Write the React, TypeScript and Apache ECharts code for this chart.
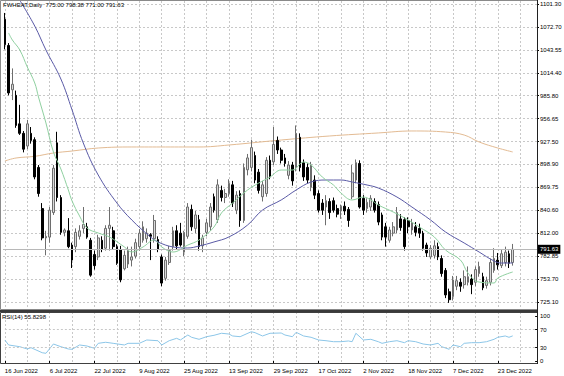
import React, { useEffect, useRef } from "react";
import * as echarts from "echarts";

const symbolName = "FWHEAT";
const timeframe = "Daily";
const dateLabels = [
  "16 Jun 2022", "6 Jul 2022", "22 Jul 2022", "9 Aug 2022", "25 Aug 2022", "13 Sep 2022",
  "29 Sep 2022", "17 Oct 2022", "2 Nov 2022", "18 Nov 2022", "7 Dec 2022", "23 Dec 2022",
];
const priceTicks = [1101.3, 1072.7, 1043.55, 1014.4, 985.8, 956.65, 927.5, 898.9, 869.75, 840.6, 812.0, 782.85, 753.7, 725.1];
const rsiTicks = [0, 30, 70, 100];
const rsiLevels = [30, 70];
const rsiLastText = "55.8298";

const opens = [
  1082, 1049, 993, 986, 950, 938, 922, 938, 930, 895,
  843, 806, 807, 838, 926, 857, 813, 815, 797, 795,
  808, 818, 820, 803, 785, 782, 803, 793, 818, 815,
  795, 791, 767, 773, 778, 783, 795, 803, 805, 810,
  805, 804, 782, 755, 775, 795, 815, 812, 788, 808,
  842, 818, 829, 796, 813, 820, 858, 829, 866, 857,
  862, 873, 841, 862, 828, 892, 895, 910, 889, 858,
  862, 904, 902, 929, 917, 907, 885, 898, 895, 933,
  901, 895, 870, 879, 862, 850, 845, 852, 853, 843,
  840, 846, 842, 858, 879, 900, 856, 843, 845, 852,
  848, 835, 820, 803, 812, 816, 830, 829, 828, 816,
  820, 818, 812, 797, 782, 784, 795, 780, 765, 738,
  732, 745, 750, 747, 750, 754, 750, 761, 757, 746,
  750, 765, 778, 771, 775, 786, 775,
];
const highs = [
  1090, 1052, 1020, 992, 974, 941, 955, 946, 933, 898,
  850, 815, 845, 898, 940, 860, 818, 831, 800, 818,
  822, 845, 825, 806, 790, 810, 808, 822, 845, 820,
  798, 796, 790, 795, 795, 805, 817, 827, 818, 812,
  835, 808, 785, 782, 796, 820, 822, 825, 815, 850,
  848, 840, 835, 810, 830, 850, 862, 880, 872, 868,
  880, 878, 865, 866, 900, 912, 930, 915, 893, 878,
  908, 910, 946, 934, 920, 912, 903, 902, 948, 938,
  905, 900, 902, 885, 866, 855, 860, 856, 857, 848,
  848, 852, 845, 898, 905, 904, 860, 856, 860, 856,
  852, 838, 825, 820, 826, 845, 836, 832, 832, 830,
  826, 824, 815, 800, 797, 803, 800, 784, 768, 742,
  758, 758, 755, 765, 770, 760, 770, 776, 762, 757,
  780, 793, 787, 792, 795, 790, 798.38,
];
const lows = [
  1044, 986, 980, 945, 936, 914, 918, 925, 880, 858,
  803, 784, 800, 835, 852, 810, 808, 793, 768, 788,
  804, 812, 805, 757, 766, 778, 788, 790, 790, 792,
  772, 750, 765, 768, 770, 780, 790, 800, 800, 778,
  800, 788, 745, 752, 772, 790, 792, 795, 783, 805,
  815, 812, 790, 788, 808, 815, 838, 825, 852, 850,
  858, 845, 836, 820, 825, 885, 890, 875, 862, 852,
  858, 880, 898, 912, 900, 896, 880, 872, 890, 890,
  878, 875, 865, 855, 838, 835, 822, 830, 838, 832,
  830, 835, 820, 855, 875, 843, 835, 838, 840, 838,
  822, 803, 795, 800, 808, 812, 815, 790, 812, 810,
  808, 806, 790, 782, 779, 780, 778, 757, 730, 724,
  727, 740, 738, 742, 746, 735, 745, 757, 740, 742,
  746, 762, 766, 768, 770, 768, 771,
];
const closes = [
  1050, 989, 1000, 948, 938, 918, 950, 929, 883, 862,
  806, 808, 841, 894, 857, 813, 816, 795, 778, 813,
  815, 823, 807, 759, 771, 806, 792, 818, 822, 795,
  774, 753, 784, 790, 782, 800, 812, 820, 812, 808,
  828, 792, 749, 778, 790, 815, 796, 797, 813, 845,
  820, 835, 795, 806, 825, 845, 841, 873, 857, 862,
  875, 850, 860, 828, 895, 907, 920, 879, 866, 873,
  904, 883, 924, 917, 904, 900, 898, 878, 938, 895,
  883, 879, 898, 860, 841, 841, 853, 838, 841, 836,
  846, 840, 828, 888, 901, 845, 841, 851, 856, 841,
  826, 807, 807, 816, 820, 838, 819, 795, 820, 825,
  813, 812, 793, 787, 793, 796, 782, 761, 734, 728,
  753, 752, 745, 757, 757, 747, 766, 770, 743, 752,
  775, 780, 772, 786, 788, 774, 791.63,
];

// moving averages: [bar index, price]
const maFast = [
  [1, 1064.7], [2, 1055.9], [4, 1043.2], [6, 1021.8], [8, 1001.6], [9, 983.9], [11, 951.1], [13, 914.5],
  [15, 893], [17, 866.5], [18, 852.6], [20, 833.7], [22, 818.5], [25, 812.2], [28, 807.2], [32, 794.6],
  [34, 788.2], [37, 794.6], [40, 803.4], [42, 794.6], [45, 788.2], [49, 797], [52, 803.4], [56, 819.8],
  [58, 837.5], [61, 850.1], [65, 866.5], [68, 875.3], [71, 882.9], [74, 891.7], [77, 891.7], [80, 901.8],
  [82, 898.1], [85, 882.9], [88, 872.8], [90, 862.7], [93, 853.9], [96, 857.6], [98, 853.9], [100, 847.6],
  [104, 838.7], [108, 828.6], [111, 819.8], [115, 807.2], [118, 790.7], [122, 778.1], [124, 761.7],
  [127, 750.3], [131, 749.1], [132, 755.4], [136, 763],
];
const maMid = [
  [4, 1106], [8, 1073.5], [11, 1043.2], [15, 1006.6], [18, 967.5], [21, 925.8], [25, 885.4], [30, 850.1],
  [34, 828.6], [39, 807.2], [41, 800.9], [45, 794.6], [49, 793.3], [52, 795.8], [56, 800.9], [60, 807.2],
  [65, 822.3], [69, 841.2], [74, 853.9], [78, 866.5], [82, 876.6], [86, 879.1], [90, 879.1], [93, 876.6],
  [97, 872.8], [100, 869], [105, 857.6], [109, 845], [114, 828.6], [118, 813.5], [123, 799.6], [127, 788.2],
  [131, 776.9], [133, 774.3], [136, 774.3],
];
const maSlow = [
  [0, 903.1], [3, 906.9], [8, 909], [13, 913.2], [18, 915.7], [25, 919.5], [34, 920.8], [43, 920.8],
  [52, 920.8], [60, 923.3], [74, 929.6], [87, 934.7], [100, 938.5], [109, 941], [118, 939.7], [123, 935.9],
  [127, 927.1], [132, 919.5], [136, 914.5],
];
const rsi14 = [
  [0, 46.7], [1, 35.6], [4, 31.8], [6, 26.7], [7, 29.6], [10, 18.4], [11, 17.1], [13, 37.8], [15, 31.8],
  [17, 26.7], [18, 26], [20, 35.6], [22, 33.3], [24, 28.2], [25, 39.3], [27, 41.6], [29, 39.3], [32, 35.6],
  [33, 39.3], [36, 39.3], [38, 46.7], [41, 45.1], [42, 35.6], [44, 45.1], [46, 50.4], [47, 46.7], [49, 57.8],
  [50, 52.7], [52, 48.2], [54, 54], [56, 57.1], [58, 61.6], [60, 60], [61, 55.6], [63, 54], [66, 65.1],
  [67, 62.9], [69, 55.6], [71, 61.6], [74, 62.2], [75, 57.8], [77, 54], [78, 63.8], [80, 55.6], [82, 52.7],
  [84, 46.7], [86, 45.1], [88, 42.9], [90, 42.9], [92, 44.5], [93, 42.9], [94, 61.6], [96, 46.7], [98, 48.2],
  [100, 42.9], [101, 39.3], [103, 42.9], [105, 45.1], [107, 40.7], [108, 45.1], [110, 42.9], [112, 37.8],
  [114, 35.6], [116, 39.3], [117, 31.8], [119, 26], [120, 35.6], [122, 31.8], [123, 39.3], [125, 40.7],
  [127, 40.7], [129, 42.9], [131, 48.2], [132, 52.7], [134, 55.6], [135, 52.7], [136, 55.83],
];

const emptyBarsRight = 6;
const labelEvery = 12;
const gridEvery = 6;

export default function App() {
  const ref = useRef<HTMLDivElement>(null);
  useEffect(() => {
    if (!ref.current) return;
    const chart = echarts.init(ref.current, null, { renderer: "svg" });
    const n = opens.length;
    const total = n + emptyBarsRight;
    const categories = Array.from({ length: total }, (_, i) => String(i));
    const candles = opens.map((o, i) => [o, closes[i], lows[i], highs[i]]);
    const band = 534 / total;
    const pMin = Math.min(...priceTicks);
    const pMax = Math.max(...priceTicks);
    const pInterval = (pMax - pMin) / (priceTicks.length - 1);
    const nearest = (v: number) =>
      priceTicks.reduce((a, b) => (Math.abs(b - v) < Math.abs(a - v) ? b : a)).toFixed(2);
    const last = n - 1;
    const header = `${symbolName},${timeframe}  ${opens[last].toFixed(2)} ${highs[last].toFixed(2)} ${lows[last].toFixed(2)} ${closes[last].toFixed(2)}`;
    const font = "Liberation Sans";
    const axisFont = { fontFamily: font, fontSize: 6, color: "#000" };
    const gridLine = { show: true, lineStyle: { color: "#c8c8c8", type: [2, 2] as any, width: 1 } };
    const isLabel = (i: number) => i % labelEvery === 0 && i / labelEvery < dateLabels.length;
    const lineBase = {
      type: "line" as const,
      xAxisIndex: 1,
      yAxisIndex: 1,
      showSymbol: false,
      smooth: 0.4,
      clip: false,
      silent: true,
    };

    chart.setOption({
      animation: false,
      backgroundColor: "#ffffff",
      textStyle: { fontFamily: font },
      grid: [
        { left: 3 + band / 2, right: 27 + band / 2, top: 1, height: 308, outerBoundsMode: "none" },
        { left: 3, right: 27, top: 4, height: 298, outerBoundsMode: "none" },
        { left: 3 + band / 2, right: 27 + band / 2, top: 312, height: 51, outerBoundsMode: "none" },
      ],
      xAxis: [
        {
          gridIndex: 0, type: "category", data: categories, boundaryGap: false,
          axisLine: { show: false }, axisTick: { show: false }, axisLabel: { show: false },
          splitLine: { ...gridLine, interval: (i: number) => i % gridEvery === 0 },
        },
        { gridIndex: 1, type: "category", data: categories, boundaryGap: true, show: false },
        {
          gridIndex: 2, type: "category", data: categories, boundaryGap: false,
          axisLine: { show: false },
          axisTick: { show: true, length: 3, interval: isLabel, lineStyle: { color: "#000" } },
          axisLabel: {
            show: true, interval: isLabel, hideOverlap: false, align: "left", margin: 5, ...axisFont,
            formatter: (_v: string, i: number) => dateLabels[i / labelEvery] ?? "",
          },
          splitLine: { ...gridLine, interval: (i: number) => i % gridEvery === 0 },
        },
      ],
      yAxis: [
        { gridIndex: 0, type: "value", min: 0, max: 1, show: false },
        {
          gridIndex: 1, type: "value", position: "right", min: pMin, max: pMax, interval: pInterval,
          axisLine: { show: false },
          axisTick: { show: true, length: 2, lineStyle: { color: "#000" } },
          axisLabel: { ...axisFont, margin: 3, hideOverlap: false, formatter: nearest },
          splitLine: gridLine,
        },
        {
          gridIndex: 2, type: "value", position: "right", min: -4.444, max: 108.889,
          axisLine: { show: false },
          axisTick: { show: true, length: 2, customValues: rsiTicks, lineStyle: { color: "#000" } },
          axisLabel: { ...axisFont, margin: 3 + band / 2, customValues: rsiTicks, hideOverlap: false },
          splitLine: { show: false },
        },
      ],
      series: [
        { ...lineBase, data: maSlow, lineStyle: { color: "#e3bb93", width: 1 }, z: 1 },
        {
          type: "candlestick", xAxisIndex: 1, yAxisIndex: 1, data: candles, barWidth: 2.2, clip: false, z: 2,
          silent: true,
          itemStyle: { color: "#dadada", color0: "#000000", borderColor: "#6e6e6e", borderColor0: "#000000", borderWidth: 1 },
          markLine: {
            silent: true, symbol: "none", animation: false,
            lineStyle: { color: "#b8b8b8", type: "solid", width: 1 },
            label: {
              show: true, position: "end", distance: 1, formatter: closes[last].toFixed(2),
              backgroundColor: "#000", color: "#fff", fontSize: 6, fontFamily: font, padding: [2, 2, 1, 2],
            },
            data: [{ yAxis: closes[last] }],
          },
        },
        { ...lineBase, data: maMid, lineStyle: { color: "#5a5aa6", width: 1 }, z: 3 },
        { ...lineBase, data: maFast, lineStyle: { color: "#8fd0a0", width: 1 }, z: 3 },
        {
          type: "line", xAxisIndex: 2, yAxisIndex: 2, data: rsi14, showSymbol: false, silent: true,
          lineStyle: { color: "#8cc6e8", width: 1 },
          markLine: {
            silent: true, symbol: "none", animation: false, label: { show: false },
            lineStyle: { color: "#c8c8c8", type: [2, 2], width: 1 },
            data: rsiLevels.map((v) => ({ yAxis: v })),
          },
        },
      ],
      graphic: [
        { type: "rect", z: 100, silent: true, shape: { x: 0.5, y: 0.5, width: 537, height: 309 }, style: { fill: "none", stroke: "#8a8a8a", lineWidth: 1 } },
        { type: "rect", z: 101, silent: true, shape: { x: 0, y: 310, width: 538, height: 2 }, style: { fill: "#3a3a3a" } },
        { type: "rect", z: 100, silent: true, shape: { x: 0.5, y: 312.5, width: 537, height: 51 }, style: { fill: "none", stroke: "#404040", lineWidth: 1 } },
        { type: "line", z: 102, silent: true, shape: { x1: 537.5, y1: 0, x2: 537.5, y2: 364 }, style: { stroke: "#202020", lineWidth: 1 } },
        { type: "text", z: 103, left: 3, top: 2, style: { text: header, fontSize: 6, fontFamily: font, fill: "#000" } },
        { type: "text", z: 103, left: 2, top: 314, style: { text: `RSI(14) ${rsiLastText}`, fontSize: 6, fontFamily: font, fill: "#000" } },
      ],
    });
    return () => chart.dispose();
  }, []);
  return <div ref={ref} style={{ position: "fixed", left: 0, top: 0, width: 564, height: 376 }} />;
}
